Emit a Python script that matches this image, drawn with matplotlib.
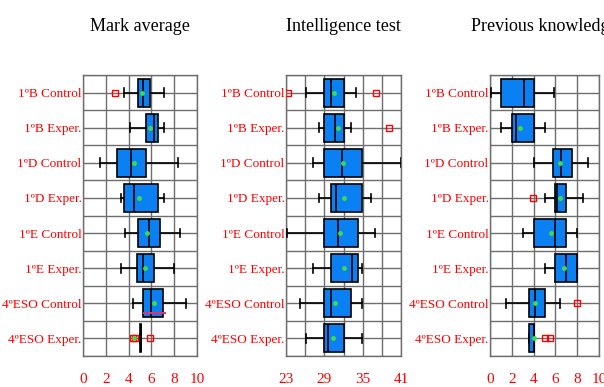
import numpy as np
import matplotlib
matplotlib.use("Agg")
import matplotlib.pyplot as plt

plt.rcParams['font.family'] = ['Liberation Serif', 'DejaVu Serif']

groups = ["1ºB Control", "1ºB Exper.", "1ºD Control", "1ºD Exper.",
          "1ºE Control", "1ºE Exper.", "4ºESO Control", "4ºESO Exper."]

# Mark average
mark_whislo = [3.6, 4.1, 1.5, 3.3, 3.7, 3.3, 4.35, 5.0]
mark_q1 = [4.8, 5.5, 2.95, 3.6, 4.8, 4.7, 5.3, 4.97]
mark_med = [5.3, 6.2, 4.2, 4.5, 5.8, 5.3, 6.0, 5.05]
mark_q3 = [5.9, 6.6, 5.5, 6.6, 6.75, 6.2, 7.05, 5.13]
mark_whishi = [7.1, 7.1, 8.3, 7.1, 8.5, 8.0, 9.0, 5.1]
mark_mean = [5.2, 5.9, 4.5, 4.9, 5.6, 5.4, 6.2, 4.5]
mark_fliers = [[2.8], [], [], [], [], [], [], [4.35, 4.55, 5.9]]

# Intelligence test
iq_whislo = [26.2, 28.2, 27.3, 28.2, 23.2, 27.2, 25.2, 26.2]
iq_q1 = [29.0, 29.0, 29.0, 30.0, 29.0, 30.0, 29.0, 29.0]
iq_med = [30.0, 30.6, 31.7, 30.9, 31.2, 33.4, 30.0, 29.5]
iq_q3 = [32.0, 32.0, 34.9, 34.9, 34.2, 34.2, 33.2, 32.0]
iq_whishi = [34.0, 33.2, 41.0, 36.3, 37.0, 34.9, 34.9, 34.9]
iq_mean = [30.5, 31.1, 31.9, 32.0, 31.5, 32.0, 30.7, 30.4]
iq_fliers = [[23.3, 37.1], [39.1], [], [], [], [], [], []]

# Previous knowledge
pk_whislo = [0.05, 1.0, 4.0, 5.0, 3.0, 5.0, 1.5, 3.55]
pk_q1 = [1.0, 2.0, 5.8, 6.0, 4.0, 6.0, 3.55, 3.55]
pk_med = [3.1, 2.4, 6.5, 6.15, 5.95, 7.0, 4.15, 4.0]
pk_q3 = [4.0, 4.0, 7.55, 6.95, 7.0, 8.0, 5.0, 4.0]
pk_whishi = [5.9, 5.0, 9.0, 8.5, 8.0, 8.0, 6.45, 4.0]
pk_mean = [np.nan, 2.77, 6.45, 6.4, 5.6, 6.8, 4.15, 4.05]
pk_fliers = [[], [], [], [3.95], [], [], [7.95], [5.0, 5.5]]

panels = [
    ("Mark average", mark_whislo, mark_q1, mark_med, mark_q3, mark_whishi,
     mark_mean, mark_fliers, (0, 10), [0, 2, 4, 6, 8, 10], []),
    ("Intelligence test", iq_whislo, iq_q1, iq_med, iq_q3, iq_whishi,
     iq_mean, iq_fliers, (23, 41), [23, 29, 35, 41], [26, 32, 38]),
    ("Previous knowledge", pk_whislo, pk_q1, pk_med, pk_q3, pk_whishi,
     pk_mean, pk_fliers, (0, 10), [0, 2, 4, 6, 8, 10], []),
]

rects = [
    [83 / 604, 1 - 356 / 387, 114 / 604, 281 / 387],
    [286 / 604, 1 - 356 / 387, 115 / 604, 281 / 387],
    [490 / 604, 1 - 356 / 387, 109 / 604, 281 / 387],
]

grid_col = '#6e6e6e'
box_col = '#0a80f2'

fig = plt.figure(figsize=(6.04, 3.87), dpi=100)
axes = []
for rect, (title, wlo, q1, med, q3, whi, mean, fl, xl, ticks, minor) in zip(rects, panels):
    ax = fig.add_axes(rect)
    stats = []
    for i in range(len(groups)):
        stats.append(dict(whislo=wlo[i], q1=q1[i], med=med[i], q3=q3[i],
                          whishi=whi[i], fliers=fl[i], label=groups[i]))
    pos = np.arange(len(groups))
    ax.bxp(stats, positions=pos, widths=0.8, vert=False, patch_artist=True,
           capwidths=0.25,
           boxprops=dict(facecolor=box_col, edgecolor='black', linewidth=1.2),
           medianprops=dict(color='black', linewidth=1.2),
           whiskerprops=dict(color='black', linewidth=1.2),
           capprops=dict(color='black', linewidth=1.2),
           flierprops=dict(marker='s', markerfacecolor='none',
                           markeredgecolor='red', markersize=4,
                           markeredgewidth=1.0),
           zorder=3)
    ax.plot(mean, pos, 'o', color='#3ddc50', markersize=2.5, zorder=5)

    ax.set_xlim(*xl)
    ax.set_ylim(len(groups) - 0.5, -0.5)
    ax.set_xticks(ticks)
    ax.set_xticks(minor, minor=True)
    ax.set_yticks(pos)
    ax.set_yticklabels(groups)
    ax.set_yticks(np.arange(len(groups) + 1) - 0.5, minor=True)
    ax.grid(True, which='both', color=grid_col, linewidth=1.0, zorder=0)
    ax.set_axisbelow(True)
    for sp in ax.spines.values():
        sp.set_color(grid_col)
        sp.set_linewidth(1.0)
    ax.tick_params(which='both', length=0)
    ax.tick_params(axis='x', labelcolor='red', labelsize=11, pad=12)
    ax.tick_params(axis='y', labelcolor='red', labelsize=9.5, pad=1)
    ax.set_title(title, fontsize=13, pad=32)
    axes.append(ax)

# red marker line inside the 4ºESO Control box
axes[0].hlines(6.28, 5.3, 7.3, color='#e8306a', linewidth=1.5, zorder=4)

plt.savefig('out.png', dpi=100)
